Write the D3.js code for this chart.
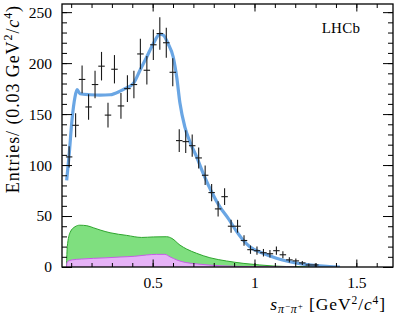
<!DOCTYPE html>
<html>
<head>
<meta charset="utf-8">
<script src="https://cdn.jsdelivr.net/npm/d3@7"></script>
<style>
  body { margin: 0; background: #fff; }
  svg { display: block; }
  text { font-family: "Liberation Serif", "DejaVu Serif", serif; fill: #000; }
</style>
</head>
<body>
<svg id="chart" width="399" height="318"></svg>
<script>
// measured histogram (bin centres follow from bin start and width)
let binStart = 0.0741;
let binWidth = 0.0318;
let counts = [108, 139, 184, 157, 179, 197, 149, 194, 158, 175, 179, 209, 193, 218, 229, 220, 191, 124, 123, 119,
    107, 90, 73, 57, 69, 40, 40, 26, 17, 16, 14, 13, 16, 12, 7, 6, 4, 2, 2];
let errors = [10.4, 11.8, 13.6, 12.5, 13.4, 14, 12.2, 13.9, 12.6, 13.2, 13.4, 15, 13.9, 15, 16, 14.8, 13.8, 11.1, 11.1, 10.9,
    10.3, 9.5, 8.5, 7.5, 8.3, 6.3, 6.3, 5.1, 4.1, 4, 3.7, 3.6, 4, 3.5, 2.6, 2.4, 2, 1.4, 1.4];

// total fit
let fitX = [0.078, 0.090, 0.104, 0.119, 0.129, 0.143, 0.193, 0.242, 0.291, 0.340, 0.364, 0.405, 0.438, 0.471, 0.503, 0.536,
    0.552, 0.576, 0.601, 0.618, 0.634, 0.658, 0.683, 0.716, 0.748, 0.789, 0.830, 0.871, 0.912, 0.944, 0.977, 1.042, 1.108,
    1.173, 1.238, 1.304, 1.369, 1.42];
let fitY = [85, 110, 144, 167, 174, 170, 169, 168.6, 169, 172.5, 175, 180, 193, 206, 219, 228.4, 227.5, 219, 206, 186.6,
    160.8, 137.5, 122.8, 108, 91.9, 73.8, 59, 47.7, 35, 26.5, 19.9, 13.4, 8.5, 5.2, 2.9, 1.3, 0.3, 0];

// green component
let greenX = [0.077, 0.081, 0.095, 0.119, 0.142, 0.177, 0.209, 0.242, 0.291, 0.373, 0.446, 0.503, 0.569, 0.595, 0.634,
    0.667, 0.716, 0.781, 0.863, 0.944, 1.026, 1.091, 1.222, 1.30];
let greenY = [0, 20, 34, 39.5, 41, 40.5, 38.5, 36.3, 33.6, 31, 29, 29.5, 29.7, 28, 21.5, 17.6, 13.4, 9.1, 5.9, 3.6, 2, 1,
    0.2, 0];

// violet component
let violetX = [0.077, 0.081, 0.105, 0.15, 0.21, 0.27, 0.34, 0.41, 0.47, 0.52, 0.56, 0.585, 0.62, 0.66, 0.72, 0.83, 1.0, 1.2];
let violetY = [0, 5, 7, 7.8, 8.5, 9, 9.8, 10.5, 11.8, 12.4, 12.4, 10, 6.8, 4.5, 3, 1.2, 0.3, 0];

let xMajor = [0.5, 1, 1.5];
let xMajorLabels = ['0.5', '1', '1.5'];
let xMinor = d3.range(1, 17).map((i) => i / 10);
let yMajor = [0, 50, 100, 150, 200, 250];
let yMinor = d3.range(0, 260, 10);

let frameLeft = 62, frameRight = 393, frameTop = 4, frameBottom = 267;

let x = d3.scaleLinear().domain([0.055, 1.68]).range([frameLeft, frameRight]);
let y = d3.scaleLinear().domain([0, 258]).range([frameBottom, frameTop]);

let svg = d3.select('#chart');

svg.append('defs').append('clipPath').attr('id', 'frame')
    .append('rect').attr('x', frameLeft).attr('y', frameTop)
    .attr('width', frameRight - frameLeft).attr('height', frameBottom - frameTop);

let plot = svg.append('g').attr('clip-path', 'url(#frame)');

function zip(xs, ys) {
    return xs.map((v, i) => [v, ys[i]]);
}

let area = d3.area().x((d) => x(d[0])).y0(y(0)).y1((d) => y(d[1])).curve(d3.curveMonotoneX);
let line = d3.line().x((d) => x(d[0])).y((d) => y(d[1])).curve(d3.curveMonotoneX);

plot.append('path').datum(zip(greenX, greenY)).attr('d', area).attr('fill', '#7fdf7f');
plot.append('path').datum(zip(greenX, greenY)).attr('d', line).attr('fill', 'none')
    .attr('stroke', '#2ea52e').attr('stroke-width', 1);

plot.append('path').datum(zip(violetX, violetY)).attr('d', area).attr('fill', '#e6b3f7');
plot.append('path').datum(zip(violetX, violetY)).attr('d', line).attr('fill', 'none')
    .attr('stroke', '#c65ee6').attr('stroke-width', 1);

plot.append('path').datum(zip(fitX, fitY)).attr('d', line).attr('fill', 'none')
    .attr('stroke', '#6aa6e4').attr('stroke-width', 3.2).attr('stroke-linejoin', 'round');

// data points
let points = counts.map((c, i) => ({ x: binStart + (i + 0.5) * binWidth, v: c, e: errors[i] }));
let marks = plot.selectAll('g.pt').data(points).enter().append('g').attr('class', 'pt');
marks.append('line')
    .attr('x1', (d) => x(d.x)).attr('x2', (d) => x(d.x))
    .attr('y1', (d) => y(d.v - d.e)).attr('y2', (d) => y(d.v + d.e))
    .attr('stroke', '#1a1a1a').attr('stroke-width', 1.1);
marks.append('line')
    .attr('x1', (d) => x(d.x - binWidth / 2)).attr('x2', (d) => x(d.x + binWidth / 2))
    .attr('y1', (d) => y(d.v)).attr('y2', (d) => y(d.v))
    .attr('stroke', '#1a1a1a').attr('stroke-width', 1.1);

// axes, ticks pointing inwards on all four sides
function styleAxis(g) {
    g.select('.domain').remove();
    g.selectAll('line').attr('stroke', '#000').attr('stroke-width', 1);
}

function styleLabels(g) {
    g.selectAll('text').attr('font-size', 15.5).attr('font-family', '"Liberation Serif", serif').attr('fill', '#000');
}

svg.append('g').attr('transform', `translate(0,${frameBottom})`)
    .call(d3.axisBottom(x).tickValues(xMinor).tickSize(-4).tickFormat(''))
    .call(styleAxis);
svg.append('g').attr('transform', `translate(0,${frameBottom})`)
    .call(d3.axisBottom(x).tickValues(xMajor).tickSize(-7.5).tickPadding(10)
        .tickFormat((d, i) => xMajorLabels[i]))
    .call(styleAxis)
    .call(styleLabels);
svg.append('g').attr('transform', `translate(0,${frameTop})`)
    .call(d3.axisTop(x).tickValues(xMinor).tickSize(-4).tickFormat(''))
    .call(styleAxis);
svg.append('g').attr('transform', `translate(0,${frameTop})`)
    .call(d3.axisTop(x).tickValues(xMajor).tickSize(-7.5).tickFormat(''))
    .call(styleAxis);

svg.append('g').attr('transform', `translate(${frameLeft},0)`)
    .call(d3.axisLeft(y).tickValues(yMinor).tickSize(-5).tickFormat(''))
    .call(styleAxis);
svg.append('g').attr('transform', `translate(${frameLeft},0)`)
    .call(d3.axisLeft(y).tickValues(yMajor).tickSize(-10).tickPadding(10))
    .call(styleAxis)
    .call(styleLabels);
svg.append('g').attr('transform', `translate(${frameRight},0)`)
    .call(d3.axisRight(y).tickValues(yMinor).tickSize(-5).tickFormat(''))
    .call(styleAxis);
svg.append('g').attr('transform', `translate(${frameRight},0)`)
    .call(d3.axisRight(y).tickValues(yMajor).tickSize(-10).tickFormat(''))
    .call(styleAxis);

svg.append('rect').attr('x', frameLeft).attr('y', frameTop)
    .attr('width', frameRight - frameLeft).attr('height', frameBottom - frameTop)
    .attr('fill', 'none').attr('stroke', '#000').attr('stroke-width', 1.3);

// labels
svg.append('text').attr('x', 341).attr('y', 33).attr('text-anchor', 'middle').attr('font-size', 15)
    .attr('letter-spacing', 0.3).text('LHCb');

let yt = svg.append('text').attr('transform', 'translate(19,5) rotate(-90)').attr('text-anchor', 'end')
    .attr('font-size', 18).attr('letter-spacing', 0.9);
yt.append('tspan').text('Entries/ (0.03 GeV');
yt.append('tspan').attr('font-size', 12).attr('dy', -7).text('2');
yt.append('tspan').attr('dy', 7).text('/');
yt.append('tspan').attr('font-style', 'italic').text('c');
yt.append('tspan').attr('font-size', 12).attr('dy', -7).text('4');
yt.append('tspan').attr('dy', 7).text(')');

let xt = svg.append('text').attr('x', 386).attr('y', 309.5).attr('text-anchor', 'end').attr('font-size', 17.5)
    .attr('letter-spacing', 0.9);
xt.append('tspan').attr('font-style', 'italic').text('s');
xt.append('tspan').attr('font-size', 12).attr('dy', 3.5).attr('font-style', 'italic').text('π');
xt.append('tspan').attr('font-size', 9).attr('dy', -4.5).text('−');
xt.append('tspan').attr('font-size', 12).attr('dy', 4.5).attr('font-style', 'italic').text('π');
xt.append('tspan').attr('font-size', 9).attr('dy', -4.5).text('+');
xt.append('tspan').attr('dy', 1).text(' [GeV');
xt.append('tspan').attr('font-size', 11.5).attr('dy', -6).text('2');
xt.append('tspan').attr('dy', 6).text('/');
xt.append('tspan').attr('font-style', 'italic').text('c');
xt.append('tspan').attr('font-size', 11.5).attr('dy', -6).text('4');
xt.append('tspan').attr('dy', 6).text(']');
</script>
</body>
</html>
